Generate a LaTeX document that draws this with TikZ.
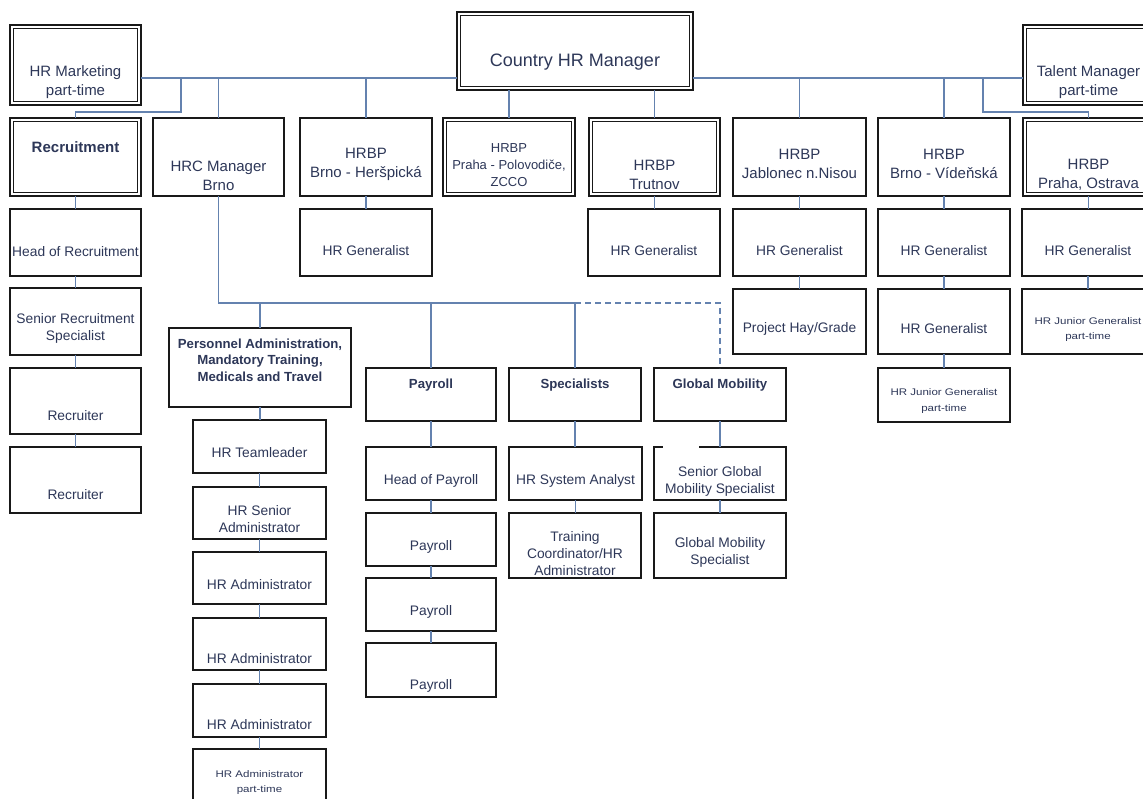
\documentclass[tikz,border=0pt]{standalone}
\usepackage{fontspec}
\setmainfont{Liberation Sans}
\newfontfamily\widesans{Liberation Sans}[FakeStretch=1.2]
\definecolor{txtc}{RGB}{45,55,88}
\definecolor{linkc}{RGB}{100,130,175}
\definecolor{boxc}{RGB}{25,25,25}

\tikzset{
  x=1pt, y=-1pt,
  plainbox/.style={draw=boxc, line width=1.3pt, inner sep=0pt, outer sep=0pt, fill=white},
  heavybox/.style={draw=boxc, line width=2.4pt, inner sep=0pt, outer sep=0pt, fill=white},
  doublebox/.style={draw=boxc, line width=2pt, inner sep=0pt, outer sep=0pt, fill=white,
    path picture={\draw[boxc, line width=0.9pt]
      ([shift={(3.6pt,-3.6pt)}]path picture bounding box.north west) rectangle
      ([shift={(-3.6pt,3.6pt)}]path picture bounding box.south east);}},
  lbl/.style={text=txtc, align=center, inner sep=0pt},
  txtn/.style={lbl, font=\fontsize{13.8}{17}\selectfont},
  txtb/.style={lbl, font=\bfseries\fontsize{13.2}{16.5}\selectfont},
  txtbig/.style={lbl, font=\fontsize{18}{22}\selectfont},
  txth/.style={lbl, font=\fontsize{15}{19}\selectfont},
  txthb/.style={lbl, font=\bfseries\fontsize{15}{19}\selectfont},
  txtm/.style={lbl, font=\fontsize{13}{17}\selectfont},
  txts/.style={lbl, font=\widesans\fontsize{9.6}{15.5}\selectfont},
  conn/.style={draw=linkc, line width=1.2pt},
  dashconn/.style={conn, dash pattern=on 6pt off 4pt},
}

% box: name, x1, y1, x2, y2, box style, text y, text style, text
\newcommand{\orgbox}[9]{%
  \node[#6, minimum width={(#4-#2)*1pt}, minimum height={(#5-#3)*1pt}] (#1)
    at ({(#2+#4)/2},{(#3+#5)/2}) {};
  \node[#8] (#1-t) at ({(#2+#4)/2},#7) {#9};}

\begin{document}
\begin{tikzpicture}
\useasboundingbox (0,0) rectangle (1143,799);
\fill[white] (0,0) rectangle (1143,799);
\begin{scope}
\clip (0,0) rectangle (1143,799);

% top level
\orgbox{mkt}{10}{25}{141}{105}{doublebox}{82}{txth}{HR Marketing\\part-time}
\orgbox{ctry}{457}{12}{693}{90}{doublebox}{62}{txtbig}{Country HR Manager}
\orgbox{tal}{1023}{25}{1154}{105}{doublebox}{82}{txth}{Talent Manager\\part-time}

% department heads
\orgbox{rec}{10}{118}{141}{196}{doublebox}{147}{txthb}{Recruitment}
\orgbox{hrc}{153}{118}{284}{196}{heavybox}{176}{txth}{HRC Manager\\Brno}
\orgbox{brh}{300}{118}{432}{196}{heavybox}{164}{txth}{HRBP\\Brno - Heršpická}
\orgbox{pra}{443}{118}{575}{196}{doublebox}{165}{txtm}{HRBP\\Praha - Polovodiče,\\ZCCO}
\orgbox{tru}{589}{118}{720}{196}{doublebox}{175}{txth}{HRBP\\Trutnov}
\orgbox{jab}{733}{118}{866}{196}{heavybox}{164}{txth}{HRBP\\Jablonec n.Nisou}
\orgbox{brv}{878}{118}{1010}{196}{heavybox}{164}{txth}{HRBP\\Brno - Vídeňská}
\orgbox{pro}{1023}{118}{1154}{196}{doublebox}{175}{txth}{HRBP\\Praha, Ostrava}

% recruitment column
\orgbox{hrec}{10}{209}{141}{276}{plainbox}{252}{txtn}{Head of Recruitment}
\orgbox{srs}{10}{288}{141}{355}{plainbox}{328.5}{txtn}{Senior Recruitment\\Specialist}
\orgbox{rcr1}{10}{368}{141}{434}{plainbox}{416}{txtn}{Recruiter}
\orgbox{rcr2}{10}{447}{141}{513}{plainbox}{495}{txtn}{Recruiter}

% HRBP generalists
\orgbox{gen1}{300}{209}{432}{276}{plainbox}{251}{txtn}{HR Generalist}
\orgbox{gen2}{588}{209}{720}{276}{plainbox}{251}{txtn}{HR Generalist}
\orgbox{gen3}{733}{209}{866}{276}{plainbox}{251}{txtn}{HR Generalist}
\orgbox{hay}{733}{289}{866}{354}{plainbox}{329}{txtn}{Project Hay/Grade}
\orgbox{gen4}{878}{209}{1010}{276}{plainbox}{251}{txtn}{HR Generalist}
\orgbox{gen4b}{878}{289}{1010}{354}{plainbox}{329}{txtn}{HR Generalist}
\orgbox{jgb}{878}{368}{1010}{422}{plainbox}{401}{txts}{HR Junior Generalist\\part-time}
\orgbox{gen5}{1022}{209}{1154}{276}{plainbox}{251}{txtn}{HR Generalist}
\orgbox{jgr}{1022}{289}{1154}{354}{plainbox}{329.5}{txts}{HR Junior Generalist\\part-time}

% HRC Brno teams
\orgbox{pers}{169}{328}{351}{407}{plainbox}{360}{txtb}{Personnel Administration,\\Mandatory Training,\\Medicals and Travel}
\orgbox{tl}{193}{420}{326}{473}{plainbox}{453}{txtn}{HR Teamleader}
\orgbox{hsa}{193}{487}{326}{539}{plainbox}{519.5}{txtn}{HR Senior\\Administrator}
\orgbox{ha1}{193}{552}{326}{604}{plainbox}{585}{txtn}{HR Administrator}
\orgbox{ha2}{193}{618}{326}{670}{plainbox}{659}{txtn}{HR Administrator}
\orgbox{ha3}{193}{684}{326}{737}{plainbox}{725}{txtn}{HR Administrator}
\orgbox{hapt}{193}{749}{326}{812}{plainbox}{782.5}{txts}{HR Administrator\\part-time}

\orgbox{pay}{366}{368}{496}{421}{plainbox}{385}{txtb}{Payroll}
\orgbox{hop}{366}{447}{496}{500}{plainbox}{481}{txtn}{Head of Payroll}
\orgbox{p1}{366}{513}{496}{566}{plainbox}{547}{txtn}{Payroll}
\orgbox{p2}{366}{578}{496}{631}{plainbox}{612}{txtn}{Payroll}
\orgbox{p3}{366}{643}{496}{697}{plainbox}{686}{txtn}{Payroll}

\orgbox{spc}{509}{368}{641}{421}{plainbox}{385}{txtb}{Specialists}
\orgbox{sys}{509}{447}{642}{500}{plainbox}{481}{txtn}{HR System Analyst}
\orgbox{trn}{509}{513}{641}{578}{plainbox}{553.5}{txtn}{Training\\Coordinator/HR\\Administrator}

\orgbox{gm}{654}{368}{786}{421}{plainbox}{385}{txtb}{Global Mobility}
\orgbox{sgm}{654}{447}{786}{500}{plainbox}{481}{txtn}{Senior Global\\Mobility Specialist}
\orgbox{gms}{654}{513}{786}{578}{plainbox}{552.5}{txtn}{Global Mobility\\Specialist}

% break in the top border of the senior mobility box
\draw[white, line width=2.4pt] ([xshift=9pt]sgm.north west) -- ([xshift=45pt]sgm.north west);

% connectors from the Country HR Manager
\coordinate (bus) at (0,78);
\coordinate (jl) at (181,112);
\coordinate (jr) at (983,112);
\draw[conn] (mkt.east |- bus) -- (ctry.west |- bus);
\draw[conn] (ctry.east |- bus) -- (tal.west |- bus);
\foreach \n in {hrc,brh,jab,brv}
  \draw[conn] (\n.north |- bus) -- (\n.north);
\foreach \n in {pra,tru}
  \draw[conn] (\n.north |- ctry.south) -- (\n.north);
\draw[conn] (bus -| jl) -- (jl) -- (jl -| rec.north) -- (rec.north);
\draw[conn] (bus -| jr) -- (jr) -- (jr -| pro.north) -- (pro.north);

% vertical reporting chains
\foreach \a/\b in {rec/hrec, hrec/srs, srs/rcr1, rcr1/rcr2,
                   brh/gen1, tru/gen2, jab/gen3, gen3/hay,
                   brv/gen4, gen4/gen4b, gen4b/jgb, pro/gen5, gen5/jgr,
                   pers/tl, tl/hsa, hsa/ha1, ha1/ha2, ha2/ha3, ha3/hapt,
                   pay/hop, hop/p1, p1/p2, p2/p3,
                   spc/sys, sys/trn, gm/sgm, sgm/gms}
  \draw[conn] (\a.south) -- (\a.south |- \b.north);

% HRC Manager Brno teams
\coordinate (bus2) at (0,303);
\draw[conn] (hrc.south) -- (hrc.south |- bus2) -- (spc.north |- bus2);
\draw[dashconn] (spc.north |- bus2) -- (gm.north |- bus2) -- (gm.north);
\foreach \n in {pers,pay,spc}
  \draw[conn] (\n.north |- bus2) -- (\n.north);

\end{scope}
\end{tikzpicture}
\end{document}
